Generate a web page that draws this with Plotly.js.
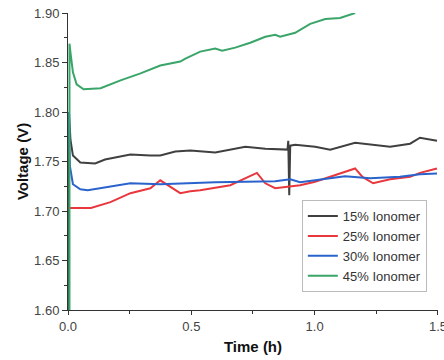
<!DOCTYPE html>
<html>
<head>
<meta charset="utf-8">
<script src="https://cdn.plot.ly/plotly-3.0.1.min.js"></script>
<style>html,body{margin:0;padding:0;background:#fff;}#chart{width:444px;height:360px;}</style>
</head>
<body>
<div id="chart"></div>
<script>
// Series names
const seriesNames = ["15% Ionomer", "25% Ionomer", "30% Ionomer", "45% Ionomer"];

// 15% Ionomer
const t15 = [0.004, 0.004, 0.01, 0.02, 0.05, 0.11, 0.15, 0.213, 0.253, 0.334, 0.374, 0.435, 0.496, 0.597, 0.719, 0.800, 0.881, 0.890, 0.893, 0.897, 0.901, 0.921, 1.002, 1.063, 1.164, 1.306, 1.387, 1.427, 1.496];
const v15 = [1.600, 1.800, 1.772, 1.756, 1.749, 1.748, 1.752, 1.755, 1.757, 1.756, 1.756, 1.760, 1.761, 1.759, 1.765, 1.763, 1.762, 1.762, 1.771, 1.716, 1.766, 1.767, 1.765, 1.762, 1.769, 1.765, 1.768, 1.774, 1.771];

// 25% Ionomer
const t25 = [0.005, 0.093, 0.172, 0.253, 0.334, 0.374, 0.455, 0.496, 0.536, 0.658, 0.766, 0.800, 0.840, 0.901, 0.941, 1.002, 1.164, 1.194, 1.237, 1.306, 1.387, 1.427, 1.496];
const v25 = [1.703, 1.703, 1.709, 1.718, 1.723, 1.731, 1.718, 1.720, 1.721, 1.726, 1.7385, 1.728, 1.723, 1.7245, 1.726, 1.7295, 1.743, 1.7345, 1.728, 1.732, 1.7345, 1.7385, 1.743];

// 30% Ionomer
const t30 = [0.003, 0.008, 0.02, 0.05, 0.08, 0.132, 0.253, 0.374, 0.476, 0.597, 0.719, 0.840, 0.901, 0.941, 1.002, 1.123, 1.225, 1.346, 1.427, 1.496];
const v30 = [1.800, 1.745, 1.727, 1.722, 1.721, 1.723, 1.728, 1.727, 1.728, 1.729, 1.7295, 1.730, 1.732, 1.729, 1.731, 1.735, 1.733, 1.7345, 1.737, 1.738];

// 45% Ionomer
const t45 = [0.006, 0.006, 0.01, 0.02, 0.035, 0.063, 0.132, 0.213, 0.294, 0.374, 0.455, 0.476, 0.536, 0.597, 0.625, 0.678, 0.739, 0.800, 0.840, 0.860, 0.921, 0.982, 1.043, 1.103, 1.164];
const v45 = [1.600, 1.869, 1.860, 1.840, 1.828, 1.823, 1.824, 1.832, 1.839, 1.847, 1.851, 1.854, 1.861, 1.864, 1.862, 1.865, 1.870, 1.876, 1.878, 1.876, 1.880, 1.889, 1.894, 1.895, 1.900];

const colors = ["#404040", "#e8373d", "#2a63cc", "#3aa569"];

const xs = [t15, t25, t30, t45];
const ys = [v15, v25, v30, v45];

const traces = xs.map((x, i) => ({
  x: x, y: ys[i], type: "scatter", mode: "lines", name: seriesNames[i],
  line: {color: colors[i], width: 2}
}));

const layout = {
  width: 444, height: 360,
  margin: {l: 68, r: 6, t: 13, b: 50},
  paper_bgcolor: "#fff", plot_bgcolor: "#fff",
  font: {family: "Liberation Sans, Arial, sans-serif", color: "#333"},
  showlegend: true,
  legend: {
    x: 0.632, y: 0.37, xanchor: "left", yanchor: "top",
    bgcolor: "#fff", bordercolor: "#bbb", borderwidth: 1,
    font: {size: 13, color: "#333"}, tracegroupgap: 0, itemwidth: 30
  },
  xaxis: {
    range: [0, 1.5001], dtick: 0.5, tickformat: ".1f",
    showgrid: false, zeroline: false, showline: true, linecolor: "#333", linewidth: 1,
    ticks: "outside", ticklen: 4, tickcolor: "#333", ticklabeloverflow: "allow",
    minor: {ticks: "outside", ticklen: 3, dtick: 0.25, tickcolor: "#333", showgrid: false},
    tickfont: {size: 13, color: "#444"},
    title: {text: "<b>Time (h)</b>", font: {size: 15, color: "#111"}, standoff: 8}
  },
  yaxis: {
    range: [1.6, 1.9], dtick: 0.05, tickformat: ".2f",
    showgrid: false, zeroline: false, showline: true, linecolor: "#333", linewidth: 1,
    ticks: "outside", ticklen: 5, tickcolor: "#333",
    minor: {ticks: "outside", ticklen: 3, dtick: 0.025, tickcolor: "#333", showgrid: false},
    tickfont: {size: 13, color: "#444"},
    title: {text: "<b>Voltage (V)</b>", font: {size: 15, color: "#111"}, standoff: 1}
  }
};

Plotly.newPlot("chart", traces, layout, {displayModeBar: false, staticPlot: true});
</script>
</body>
</html>
